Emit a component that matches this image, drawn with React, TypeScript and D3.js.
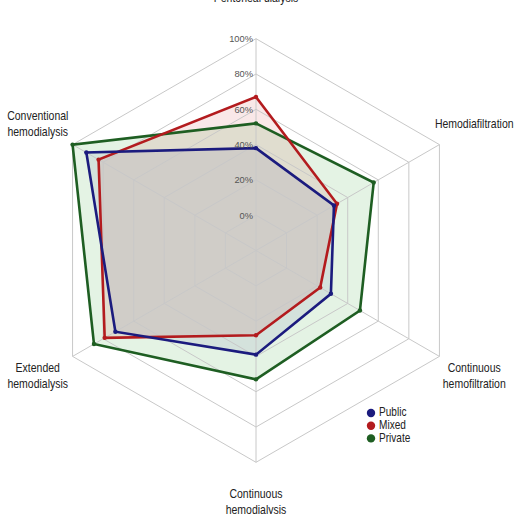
import React from "react";
import * as d3 from "d3";

// Dialysis modalities, clockwise from the top
const axes = [
  "Peritoneal dialysis",
  "Hemodiafiltration",
  "Continuous hemofiltration",
  "Continuous hemodialysis",
  "Extended hemodialysis",
  "Conventional hemodialysis",
];

// Label lines for each axis
const axisLabels = [
  ["Peritoneal dialysis"],
  ["Hemodiafiltration"],
  ["Continuous", "hemofiltration"],
  ["Continuous", "hemodialysis"],
  ["Extended", "hemodialysis"],
  ["Conventional", "hemodialysis"],
];

const seriesNames = ["Public", "Mixed", "Private"];

// Share (%) of units offering each modality
const publicValues = [38, 31, 29, 39, 72, 91];
const mixedValues = [67, 33, 22, 28, 79, 83];
const privateValues = [52, 57, 48, 53, 86, 100];

const tickValues = [0, 20, 40, 60, 80, 100];

const W = 516;
const H = 514;
const cx = 256;
const cy = 250.5;

const lineColors = ["#1b1b7e", "#b31b1e", "#1e5e22"];
const fillColors = ["#1e1e82", "#c81e1e", "#1fa01f"];
const fillOpacity = [0.08, 0.1, 0.12];

// condensed look: regular sans squeezed horizontally
const FONT = "'Liberation Sans', Arial, sans-serif";
const SQUEEZE = 0.84;

export default function App() {
  const r = d3.scaleLinear().domain([0, 100]).range([35.3, 211.8]);
  const angle = d3
    .scaleLinear()
    .domain([0, axes.length])
    .range([0, 2 * Math.PI]);

  const ring = d3
    .lineRadial<number>()
    .angle((_, i) => angle(i))
    .radius((d) => r(d))
    .curve(d3.curveLinearClosed);

  const seriesData = [publicValues, mixedValues, privateValues];

  const pt = (a: number, rad: number) => [
    Math.sin(a) * rad,
    -Math.cos(a) * rad,
  ];

  const labelRadius = 252;
  const lineHeight = 15.5;

  return (
    <svg
      width={W}
      height={H}
      style={{ position: "absolute", left: 0, top: 0, background: "#fff" }}
    >
      <g transform={`translate(${cx},${cy})`}>
        {/* fills */}
        {[2, 1, 0].map((s) => (
          <path
            key={`f${s}`}
            d={ring(seriesData[s]) || ""}
            fill={fillColors[s]}
            fillOpacity={fillOpacity[s]}
            stroke="none"
          />
        ))}

        {/* grid rings */}
        {tickValues.map((t) => (
          <path
            key={`g${t}`}
            d={ring(axes.map(() => t)) || ""}
            fill="none"
            stroke="#c8c8c8"
            strokeWidth={1}
          />
        ))}
        {/* spokes */}
        {axes.map((a, i) => {
          const [x, y] = pt(angle(i), r(100));
          return (
            <line
              key={`s${a}`}
              x1={0}
              y1={0}
              x2={x}
              y2={y}
              stroke="#c8c8c8"
              strokeWidth={1}
            />
          );
        })}

        {/* series outlines */}
        {[2, 1, 0].map((s) => (
          <g key={`l${s}`}>
            <path
              d={ring(seriesData[s]) || ""}
              fill="none"
              stroke={lineColors[s]}
              strokeWidth={2.6}
              strokeLinejoin="miter"
            />
            {seriesData[s].map((v, i) => {
              const [x, y] = pt(angle(i), r(v));
              return (
                <circle key={i} cx={x} cy={y} r={2.2} fill={lineColors[s]} />
              );
            })}
          </g>
        ))}

        {/* tick labels */}
        {tickValues.map((t) => (
          <text
            key={`t${t}`}
            x={-3}
            y={-r(t) + 1}
            textAnchor="end"
            dominantBaseline="middle"
            fontFamily={FONT}
            fontSize={9.3}
            fill="#555"
          >
            {t}%
          </text>
        ))}

        {/* axis labels */}
        {axisLabels.map((lines, i) => {
          const [x, y] = pt(angle(i), labelRadius);
          const y0 = y - ((lines.length - 1) * lineHeight) / 2;
          return (
            <text
              key={`a${i}`}
              transform={`translate(${x},${y0}) scale(${SQUEEZE},1)`}
              textAnchor="middle"
              fontFamily={FONT}
              fontSize={12.5}
              fill="#222"
            >
              {lines.map((ln, k) => (
                <tspan
                  key={k}
                  x={0}
                  y={k * lineHeight}
                  dominantBaseline="middle"
                >
                  {ln}
                </tspan>
              ))}
            </text>
          );
        })}
      </g>

      {/* legend */}
      <g transform="translate(371,413)">
        {seriesNames.map((n, i) => (
          <g key={n} transform={`translate(0,${i * 12.7})`}>
            <circle cx={0} cy={0} r={4.2} fill={lineColors[i]} />
            <text
              transform={`translate(8,0) scale(${SQUEEZE},1)`}
              dominantBaseline="middle"
              fontFamily={FONT}
              fontSize={12}
              fill="#222"
            >
              {n}
            </text>
          </g>
        ))}
      </g>
    </svg>
  );
}
